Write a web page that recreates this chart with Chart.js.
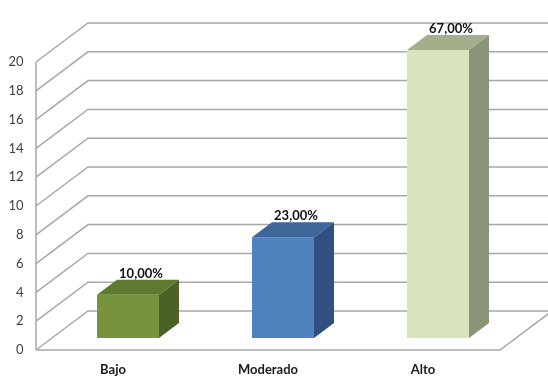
<!DOCTYPE html>
<html>
<head>
<meta charset="utf-8">
<script src="https://cdn.jsdelivr.net/npm/chart.js@4"></script>
<style>
  html, body { margin: 0; padding: 0; background: #fff; }
  #wrap { width: 548px; height: 377px; }
</style>
</head>
<body>
<div id="wrap"><canvas id="nivelChart" width="548" height="377"></canvas></div>
<script>
const categories = ["Bajo", "Moderado", "Alto"];
const counts = [3, 7, 20];
const percentLabels = ["10,00%", "23,00%", "67,00%"];

// face colours for each box: front, top, right side
const frontColors = ["#77933c", "#4f81bd", "#d7e4bd"];
const topColors = ["#5e7a2e", "#3e6699", "#a3ae8c"];
const sideColors = ["#4c6125", "#2f5080", "#8a9477"];

const gridColor = "#a8a8a8";
const FONT = "Lato, 'Open Sans', sans-serif";

// pseudo 3D walls behind the bars
const walls = {
  id: "walls",
  beforeDatasetsDraw(chart) {
    const { ctx, chartArea, scales } = chart;
    const y = scales.y;
    const fx = chartArea.left - 14.5; // front edge of side wall
    const bx = fx + 52;               // back edge
    const rightFront = chartArea.right - 15.5;
    const rightBack = rightFront + 52;
    ctx.save();
    ctx.strokeStyle = gridColor;
    ctx.lineWidth = 1.5;
    ctx.beginPath();
    y.ticks.forEach(t => {
      const fy = y.getPixelForValue(t.value) + 12;
      const by = fy - 39;
      ctx.moveTo(fx, fy);
      ctx.lineTo(bx, by);
      ctx.lineTo(chart.width + 10, by);
    });
    // front vertical edge
    ctx.moveTo(fx, y.getPixelForValue(0) + 12);
    ctx.lineTo(fx, y.getPixelForValue(20) + 12);
    // floor front edge
    const f0 = y.getPixelForValue(0) + 12;
    ctx.moveTo(fx, f0);
    ctx.lineTo(rightFront, f0);
    ctx.lineTo(rightBack, f0 - 39);
    ctx.stroke();
    ctx.restore();
  }
};

// top and side faces of each bar, and the percentage above it
const boxes = {
  id: "boxes",
  afterDatasetsDraw(chart) {
    const { ctx } = chart;
    const meta = chart.getDatasetMeta(0);
    const dx = 20, dy = 15;
    ctx.save();
    meta.data.forEach((bar, i) => {
      const l = bar.x - bar.width / 2, r = bar.x + bar.width / 2;
      const top = bar.y, bot = bar.base;
      ctx.fillStyle = topColors[i];
      ctx.beginPath();
      ctx.moveTo(l, top);
      ctx.lineTo(l + dx, top - dy);
      ctx.lineTo(r + dx, top - dy);
      ctx.lineTo(r, top);
      ctx.closePath();
      ctx.fill();
      ctx.fillStyle = sideColors[i];
      ctx.beginPath();
      ctx.moveTo(r, top);
      ctx.lineTo(r + dx, top - dy);
      ctx.lineTo(r + dx, bot - dy);
      ctx.lineTo(r, bot);
      ctx.closePath();
      ctx.fill();

      ctx.fillStyle = "#111";
      ctx.font = "bold 13px " + FONT;
      ctx.textAlign = "center";
      ctx.textBaseline = "middle";
      ctx.fillText(percentLabels[i], bar.x + 13, top - 21);
    });
    ctx.restore();
  }
};

new Chart("nivelChart", {
  type: "bar",
  data: {
    labels: categories,
    datasets: [{
      data: counts,
      backgroundColor: frontColors,
      borderWidth: 0,
      barPercentage: 0.4,
      categoryPercentage: 1
    }]
  },
  options: {
    responsive: false,
    animation: false,
    layout: { padding: { top: 50, right: 32.5, left: 0, bottom: 0 } },
    plugins: {
      legend: { display: false },
      tooltip: { enabled: false }
    },
    scales: {
      x: {
        grid: { display: false, drawTicks: false },
        border: { display: false },
        ticks: {
          color: "#1a1a1a",
          font: { family: FONT, size: 13, weight: "bold" },
          padding: 24,
          labelOffset: -15,
          maxRotation: 0
        },
        afterFit(scale) { scale.height = 39; }
      },
      y: {
        min: 0,
        max: 20,
        grid: { display: false, drawTicks: false },
        border: { display: false },
        ticks: {
          stepSize: 2,
          autoSkip: false,
          color: "#404040",
          font: { family: FONT, size: 13 },
          padding: 27,
          labelOffset: 12
        },
        afterFit(scale) { scale.width = 50.5; }
      }
    }
  },
  plugins: [walls, boxes]
});
</script>
</body>
</html>
